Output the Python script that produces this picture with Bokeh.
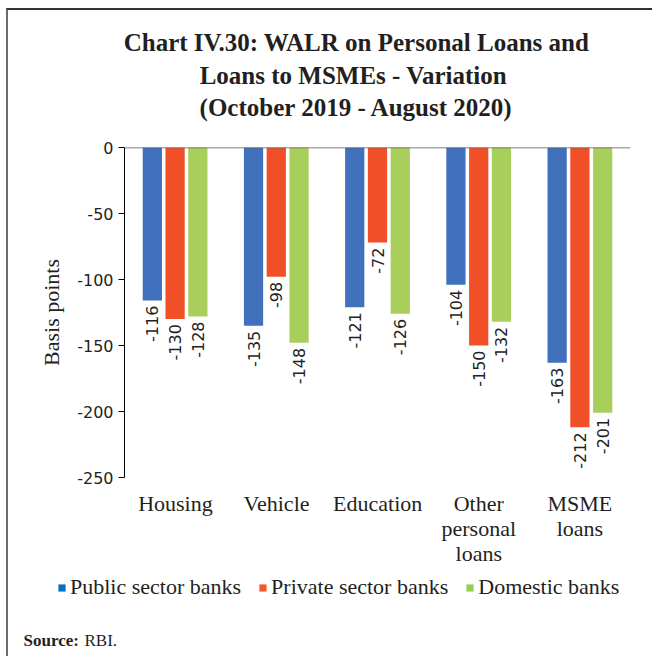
import math
from bokeh.plotting import figure
from bokeh.layouts import column, row
from bokeh.models import (ColumnDataSource, FactorRange, Range1d, Legend, LegendItem,
                          Label, Span, FixedTicker)
from bokeh.transform import dodge
from bokeh.embed import file_html
from bokeh.resources import INLINE

categories = ["Housing", "Vehicle", "Education", "Other personal loans", "MSME loans"]
category_lines = [["Housing"], ["Vehicle"], ["Education"], ["Other", "personal", "loans"],
                  ["MSME", "loans"]]
public_sector = [-116, -135, -121, -104, -163]
private_sector = [-130, -98, -72, -150, -212]
domestic = [-128, -148, -126, -132, -201]
series_names = ["Public sector banks", "Private sector banks", "Domestic banks"]
y_ticks = [0, -50, -100, -150, -200, -250]
title_lines = ["Chart IV.30: WALR on Personal Loans and",
               "Loans to MSMEs -  Variation",
               "(October 2019 - August 2020)"]

bar_colors = ["#4170bd", "#f04f28", "#a8cf5b"]
legend_colors = ["#0070c0", "#f05a28", "#92d050"]
SERIF = "Liberation Serif"
SANS = "DejaVu Sans"
TXT = "#231f20"
LEFT_BORDER = "2px solid #6b6b6b"

# layout (pixels)
W = 646            # incl. 2px left border -> 644px canvas
CANVAS_W = 644
FRAME_L, FRAME_W = 116, 504
FRAME_R = CANVAS_W - FRAME_L - FRAME_W
A_BOTTOM = 12
T_H, A_H = 129, 10 + 330 + A_BOTTOM
B_H = 656 - 8 - T_H - A_H


def blank(fig):
    fig.min_border = 0
    fig.min_border_left = fig.min_border_right = 0
    fig.min_border_top = fig.min_border_bottom = 0
    fig.xaxis.visible = False
    fig.yaxis.visible = False
    fig.xgrid.visible = False
    fig.ygrid.visible = False
    fig.outline_line_color = None


# ---------- title strip ----------
t = figure(width=W, height=T_H, x_range=(0, 1), y_range=(0, 1),
           output_backend="svg", toolbar_location=None)
blank(t)
t.styles = {"margin-left": "6px", "margin-top": "8px",
            "border-left": LEFT_BORDER, "border-top": "2px solid #333333"}
for line, yy in zip(title_lines, [97, 64, 32]):
    t.add_layout(Label(x=348, y=yy, x_units="screen", y_units="screen", text=line,
                       text_font=SERIF, text_font_style="bold", text_font_size="25px",
                       text_color=TXT, text_align="center", text_baseline="middle"))

# ---------- chart ----------
source = ColumnDataSource(dict(
    cat=categories,
    pub=public_sector, pri=private_sector, dom=domestic,
    pub_l=[str(v) for v in public_sector],
    pri_l=[str(v) for v in private_sector],
    dom_l=[str(v) for v in domestic],
))

p = figure(x_range=FactorRange(*categories, range_padding=0), y_range=(-250, 0),
           width=W, height=A_H, output_backend="svg", toolbar_location=None,
           min_border_left=FRAME_L, min_border_right=FRAME_R, min_border_top=10,
           min_border_bottom=A_BOTTOM)
p.styles = {"margin-left": "6px", "border-left": LEFT_BORDER}

offsets = [-0.225, 0.0, 0.225]
cols = ["pub", "pri", "dom"]
for off, col, color in zip(offsets, cols, bar_colors):
    p.vbar(x=dodge("cat", off, range=p.x_range), top=col, bottom=0, width=0.19,
           source=source, fill_color=color, line_color=None)
    p.text(x=dodge("cat", off, range=p.x_range), y=col, text=col + "_l", source=source,
           angle=math.pi / 2, text_align="right", text_baseline="middle",
           y_offset=5, text_font_size="16px", text_color=TXT, text_font={"value": SANS})

p.add_layout(Span(location=0, dimension="width", line_color="#555555", line_width=1.5))

p.xgrid.visible = False
p.ygrid.visible = False
p.outline_line_color = None
p.xaxis.visible = False

p.yaxis.ticker = FixedTicker(ticks=y_ticks)
p.yaxis.major_label_overrides = {tk: str(tk) for tk in y_ticks}
p.yaxis.axis_label = "Basis points"
p.yaxis.axis_label_text_font = SERIF
p.yaxis.axis_label_text_font_style = "normal"
p.yaxis.axis_label_text_font_size = "22px"
p.yaxis.axis_label_text_color = TXT
p.yaxis.axis_label_standoff = 10
p.yaxis.major_label_text_font = SANS
p.yaxis.major_label_text_font_size = "16px"
p.yaxis.major_label_text_color = TXT
p.yaxis.major_tick_out = 6
p.yaxis.major_tick_in = 0
p.yaxis.minor_tick_line_color = None
p.yaxis.axis_line_color = "#000000"
p.yaxis.major_tick_line_color = "#000000"

# ---------- bottom strip: category labels, legend, source ----------
unit = FRAME_W / len(categories)
b = figure(width=W, height=B_H,
           x_range=Range1d(-FRAME_L / unit, (CANVAS_W - FRAME_L) / unit),
           y_range=Range1d(0, B_H), output_backend="svg", toolbar_location=None)
blank(b)
b.styles = {"margin-left": "6px", "border-left": LEFT_BORDER}

first_line = 26 - A_BOTTOM
for i, lines in enumerate(category_lines):
    for j, line in enumerate(lines):
        b.add_layout(Label(x=i + 0.5, y=B_H - first_line - 25 * j, y_units="screen",
                           text=line, text_font=SERIF, text_font_size="22px",
                           text_color=TXT, text_align="center", text_baseline="middle"))

items = []
for name, color in zip(series_names, legend_colors):
    r = b.vbar(x=[0.5], top=[0], bottom=[0], width=0.1, fill_color=color,
               line_color=None)
    items.append(LegendItem(label=name, renderers=[r]))
legend = Legend(items=items, orientation="horizontal", location=(49, 56),
                glyph_width=9, glyph_height=9, label_standoff=4, spacing=17,
                padding=0, margin=0, border_line_color=None, background_fill_alpha=0,
                label_text_font=SERIF, label_text_font_size="22px",
                label_text_color=TXT)
b.add_layout(legend, "center")

b.add_layout(Label(x=15, y=16, x_units="screen", y_units="screen", text="Source:",
                   text_font=SERIF, text_font_style="bold", text_font_size="17px",
                   text_color=TXT, text_baseline="middle"))
b.add_layout(Label(x=76, y=16, x_units="screen", y_units="screen", text="RBI.",
                   text_font=SERIF, text_font_size="17px",
                   text_color=TXT, text_baseline="middle"))

layout = column(t, row(p), b, spacing=0)
open("out.html", "w").write(file_html(layout, INLINE))
